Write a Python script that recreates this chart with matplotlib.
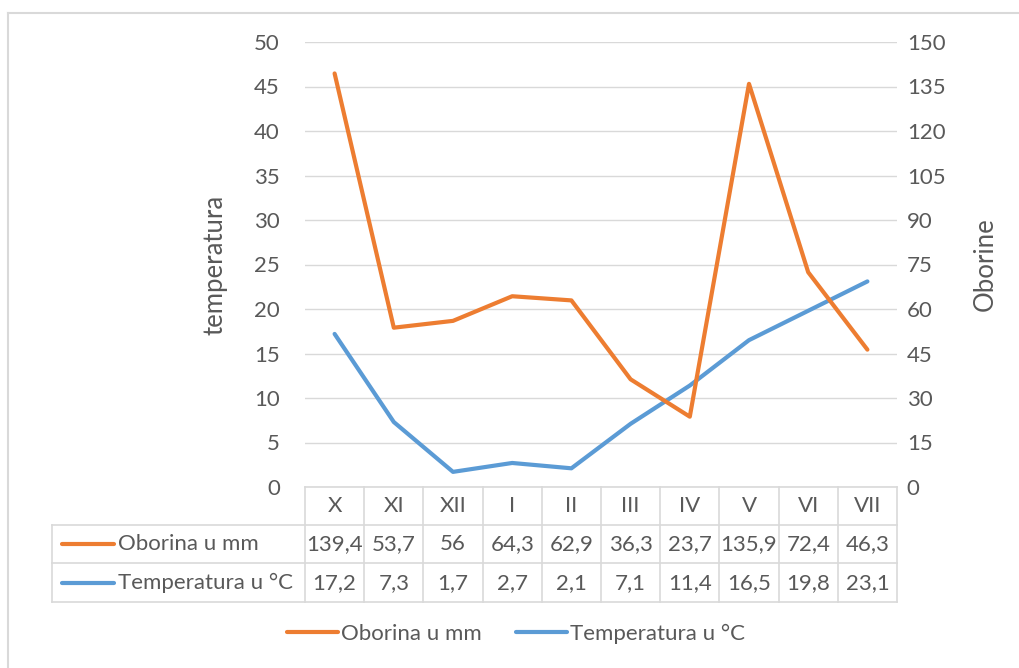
import numpy as np
import matplotlib
matplotlib.use("Agg")
import matplotlib.pyplot as plt
from matplotlib.lines import Line2D
import matplotlib.transforms as mtransforms

months = ["X", "XI", "XII", "I", "II", "III", "IV", "V", "VI", "VII"]
oborina = [139.4, 53.7, 56, 64.3, 62.9, 36.3, 23.7, 135.9, 72.4, 46.3]
temperatura = [17.2, 7.3, 1.7, 2.7, 2.1, 7.1, 11.4, 16.5, 19.8, 23.1]
oborina_txt = ["139,4", "53,7", "56", "64,3", "62,9", "36,3", "23,7", "135,9", "72,4", "46,3"]
temp_txt = ["17,2", "7,3", "1,7", "2,7", "2,1", "7,1", "11,4", "16,5", "19,8", "23,1"]
name_obo = "Oborina u mm"
name_temp = "Temperatura u °C"

orange = "#ED7D31"
blue = "#5B9BD5"
txtc = "#595959"
gridc = "#D9D9D9"

plt.rcParams['font.family'] = ['Lato', 'DejaVu Sans']
fs = 16
fs_lab = 18.5

W, H = 1019, 668
fig = plt.figure(figsize=(W / 100, H / 100), dpi=100)

def fx(px):
    return px / W

def fy(py):
    return 1 - py / H

# figure border (only top/left visible)
fig.add_artist(Line2D([fx(8), fx(8)], [fy(13), 0], color=gridc, lw=1.5, transform=fig.transFigure))
fig.add_artist(Line2D([fx(8), 1], [fy(13), fy(13)], color=gridc, lw=1.5, transform=fig.transFigure))

x0, x1, ytop, ybot = 305, 897, 42, 487
ax = fig.add_axes([fx(x0), fy(ybot), fx(x1 - x0), fy(ytop) - fy(ybot)])
ax2 = ax.twinx()

x = np.arange(len(months))
ax.plot(x, temperatura, color=blue, lw=3, solid_capstyle="round", zorder=3)
ax2.plot(x, oborina, color=orange, lw=3, solid_capstyle="round", zorder=3)

ax.set_xlim(-0.5, len(months) - 0.5)
ax.set_ylim(0, 50)
ax2.set_ylim(0, 150)
ax.set_yticks(np.arange(0, 51, 5))
ax2.set_yticks(np.arange(0, 151, 15))
ax.set_xticks([])
ax.yaxis.grid(True, color=gridc, lw=1)
ax.set_axisbelow(True)
for a in (ax, ax2):
    for s in a.spines.values():
        s.set_visible(False)
    a.tick_params(axis="y", length=0, colors=txtc, labelsize=fs)
ax.tick_params(axis="y", pad=18)
ax2.tick_params(axis="y", pad=7)
ax.set_ylabel("temperatura", color=txtc, fontsize=fs_lab, labelpad=19)
ax2.set_ylabel("Oborine", color=txtc, fontsize=fs_lab, labelpad=20)

# data table
bt = mtransforms.blended_transform_factory(ax.transData, fig.transFigure)
rows_y = [487, 525, 563, 602]
edges = np.arange(len(months) + 1) - 0.5
for e in edges:
    fig.add_artist(Line2D([e, e], [fy(487), fy(602)], color=gridc, lw=1.2, transform=bt))
# left border of label column
fig.add_artist(Line2D([fx(52), fx(52)], [fy(525), fy(602)], color=gridc, lw=1.2, transform=fig.transFigure))
fig.add_artist(Line2D([-0.5, 9.5], [fy(487), fy(487)], color=gridc, lw=1.2, transform=bt))
for ry in rows_y[1:]:
    fig.add_artist(Line2D([fx(52), fx(897)], [fy(ry), fy(ry)], color=gridc, lw=1.2, transform=fig.transFigure))

for i, m in enumerate(months):
    fig.text(i, fy(506), m, transform=bt, ha="center", va="center", color=txtc, fontsize=fs)
    fig.text(i, fy(544), oborina_txt[i], transform=bt, ha="center", va="center", color=txtc, fontsize=fs)
    fig.text(i, fy(583), temp_txt[i], transform=bt, ha="center", va="center", color=txtc, fontsize=fs)

for yy, col, name in [(544, orange, name_obo), (583, blue, name_temp)]:
    fig.add_artist(Line2D([fx(62), fx(114)], [fy(yy), fy(yy)], color=col, lw=3,
                          solid_capstyle="round", transform=fig.transFigure))
    fig.text(fx(118), fy(yy), name, ha="left", va="center", color=txtc, fontsize=fs)

# legend
handles = [Line2D([], [], color=orange, lw=3, solid_capstyle="round"),
           Line2D([], [], color=blue, lw=3, solid_capstyle="round")]
fig.legend(handles, [name_obo, name_temp], loc="center", bbox_to_anchor=(fx(516), fy(634)),
           ncol=2, frameon=False, handlelength=2.3, handletextpad=0.15, columnspacing=1.5,
           labelcolor=txtc, fontsize=fs)

fig.savefig("out.png", dpi=100, facecolor="white")
